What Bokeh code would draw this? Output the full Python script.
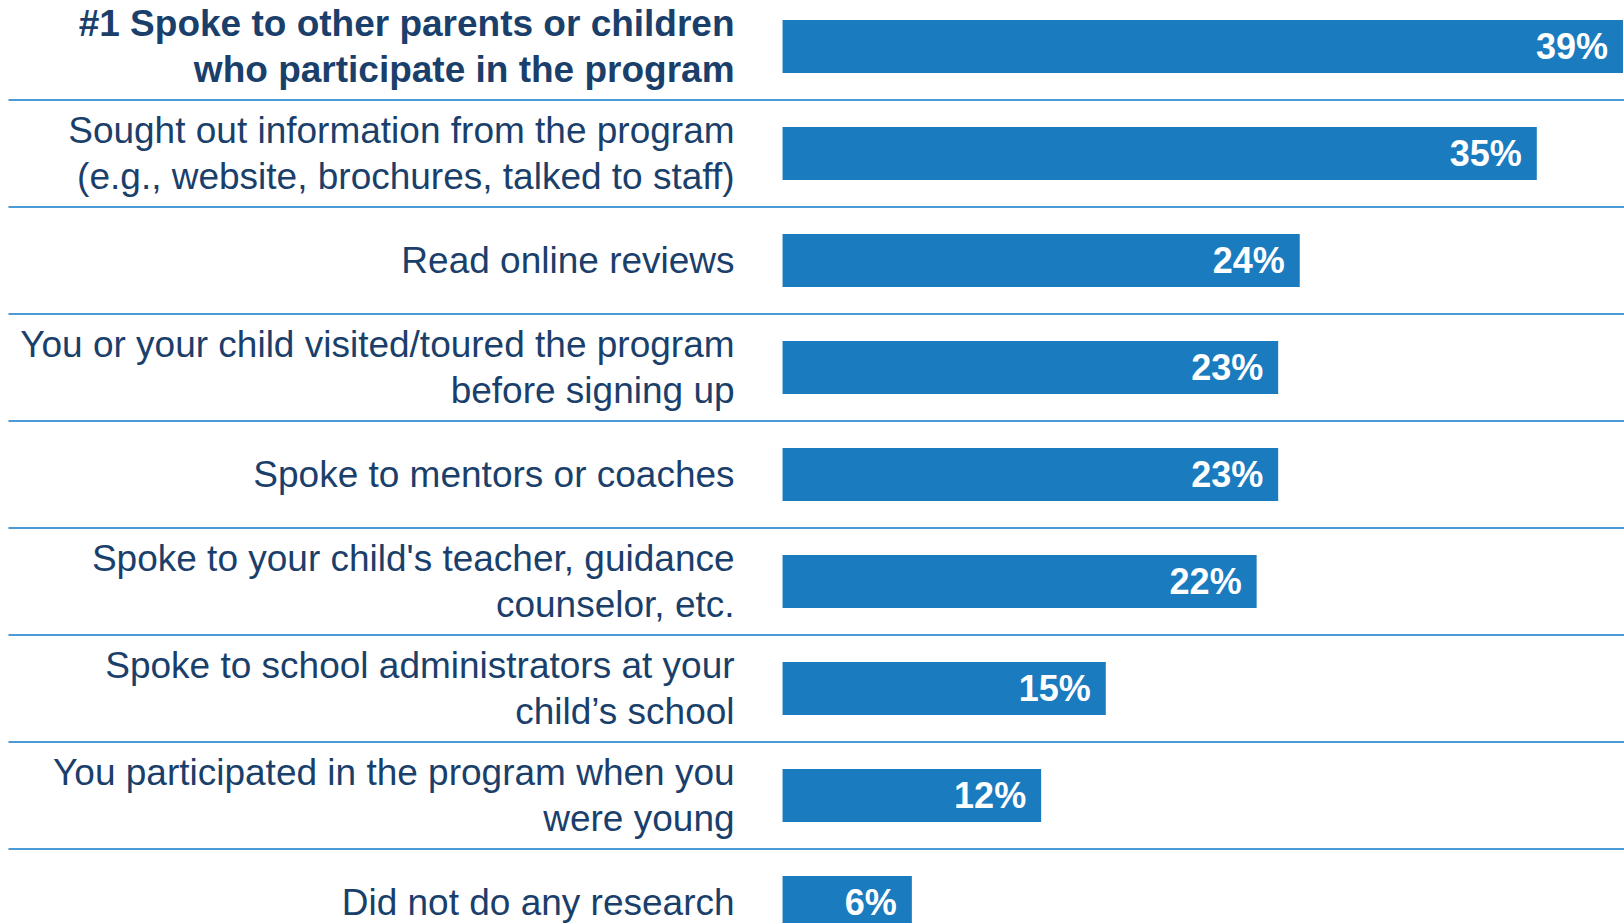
from bokeh.plotting import figure
from bokeh.models import Range1d, ColumnDataSource
from bokeh.core.properties import value
from bokeh.embed import file_html
from bokeh.resources import INLINE

labels = [
    "#1 Spoke to other parents or children\nwho participate in the program",
    "Sought out information from the program\n(e.g., website, brochures, talked to staff)",
    "Read online reviews",
    "You or your child visited/toured the program\nbefore signing up",
    "Spoke to mentors or coaches",
    "Spoke to your child's teacher, guidance\ncounselor, etc.",
    "Spoke to school administrators at your\nchild\u2019s school",
    "You participated in the program when you\nwere young",
    "Did not do any research",
]
values = [39, 35, 24, 23, 23, 22, 15, 12, 6]
styles = ["bold"] + ["normal"] * 8

rows = list(range(len(values)))
src = ColumnDataSource(dict(
    y=rows, v=values, lab=labels, style=styles,
    vt=[f"{v}%" for v in values], zero=[0] * len(values),
))

XMIN, XMAX = -36.29, 39.07
p = figure(width=1624, height=923, output_backend="svg", toolbar_location=None,
           x_range=Range1d(XMIN, XMAX), y_range=Range1d(8.196, -0.43),
           min_border=0)
p.axis.visible = False
p.grid.visible = False
p.outline_line_color = None
p.background_fill_color = "white"
p.border_fill_color = "white"

seps = [i + 0.5 for i in range(len(values) - 1)]
p.segment(x0=[-35.92] * len(seps), x1=[XMAX] * len(seps), y0=seps, y1=seps,
          line_color="#4B9AD5", line_width=2)

p.hbar(y="y", left=0, right="v", height=0.495, source=src,
       fill_color="#1A7BBF", line_color=None)

p.text(x="zero", y="y", text="lab", source=src, x_offset=-48,
       text_align="right", text_baseline="middle",
       text_font=value("Liberation Sans"), text_font_size="37px",
       text_font_style="style", text_color="#1B3F6B", text_line_height=1.1)

p.text(x="v", y="y", text="vt", source=src, x_offset=-15,
       text_align="right", text_baseline="middle",
       text_font=value("Liberation Sans"), text_font_size="36px",
       text_font_style="bold", text_color="white")

open("out.html", "w").write(file_html(p, INLINE))
